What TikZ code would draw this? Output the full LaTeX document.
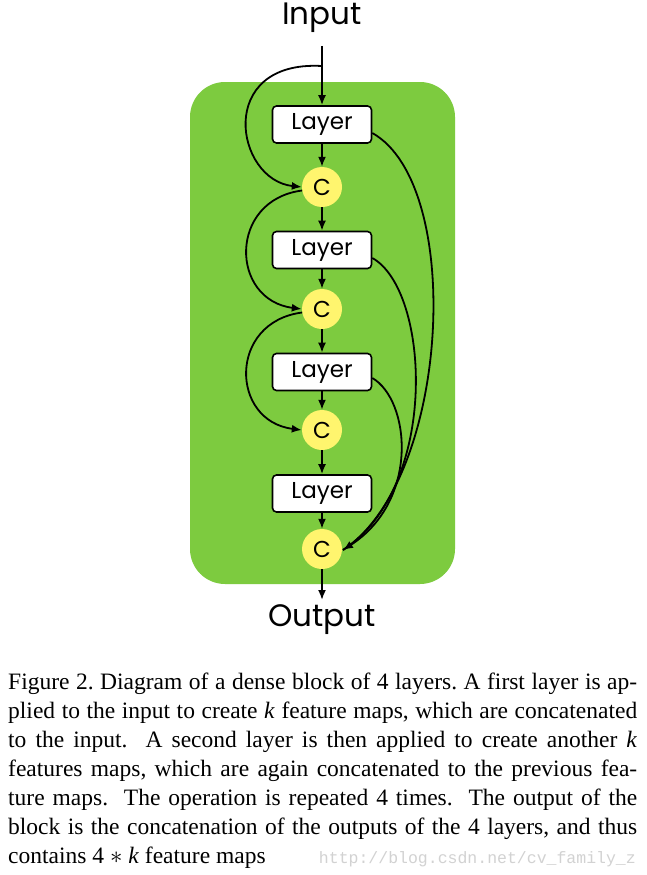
\documentclass[tikz,border=0pt]{standalone}
\usepackage{fontspec}
\setmainfont{Liberation Serif}
\newfontfamily\labelfont{Poppins}
\newfontfamily\wmfont{Liberation Mono}
\usetikzlibrary{arrows.meta}
\definecolor{blockgreen}{RGB}{125,203,63}
\definecolor{cyellow}{RGB}{255,245,110}
\frenchspacing
\begin{document}
\begin{tikzpicture}[x=1pt,y=-1pt,
  layerbox/.style={draw=black,fill=white,line width=1.6pt,rounded corners=4pt,
    minimum width=99pt,minimum height=37pt,inner sep=0pt,font=\labelfont\fontsize{23}{23}\selectfont},
  cnode/.style={circle,fill=cyellow,minimum size=40pt,inner sep=0pt,font=\labelfont\fontsize{23}{23}\selectfont},
  conn/.style={line width=1.8pt,-{Latex[length=10pt,width=8pt]}},
  curve/.style={line width=1.8pt},
  capline/.style={anchor=base west,inner sep=0pt,font=\fontsize{23.5}{23.5}\selectfont}]
\useasboundingbox (0,0) rectangle (646,875);
\fill[white] (0,0) rectangle (646,875);
\fill[blockgreen,rounded corners=35pt] (190,82) rectangle (455,584);

\node[font=\labelfont\fontsize{31}{31}\selectfont,inner sep=0pt] (in) at (322,18) {Input};
\node[font=\labelfont\fontsize{31}{31}\selectfont,inner sep=0pt] (out) at (322,620) {Output};

\node[layerbox] (l1) at (322,124.5) {Layer};
\node[layerbox] (l2) at (322,250) {Layer};
\node[layerbox] (l3) at (322,372) {Layer};
\node[layerbox] (l4) at (322,493.5) {Layer};
\node[cnode] (c1) at (322,187) {C};
\node[cnode] (c2) at (322,309) {C};
\node[cnode] (c3) at (322,430) {C};
\node[cnode] (c4) at (322,549) {C};

\coordinate (istart) at (322,46);
\coordinate (br) at (322,66);
\coordinate (oend) at (322,600);

\draw[conn] (istart) -- (l1.north);
\draw[conn] (l1.south) -- (c1.north);
\draw[conn] (c1.south) -- (l2.north);
\draw[conn] (l2.south) -- (c2.north);
\draw[conn] (c2.south) -- (l3.north);
\draw[conn] (l3.south) -- (c3.north);
\draw[conn] (c3.south) -- (l4.north);
\draw[conn] (l4.south) -- (c4.north);
\draw[conn] (c4.south) -- (oend);

% left skip curves
\draw[conn] (br) .. controls (215,60) and (235,180) .. (c1.west);
\draw[conn] (c1.190) .. controls (228,200) and (230,300) .. (c2.west);
\draw[conn] (c2.190) .. controls (228,322) and (230,421) .. (c3.west);

% right curves into last C
\coordinate (c4in) at (343,550);
\draw[curve] (l1.east |- 0,133) .. controls (465,185) and (450,480) .. (c4in);
\draw[curve] (l2.east |- 0,258) .. controls (430,290) and (440,487) .. (c4in);
\draw[conn] (l3.east |- 0,378) .. controls (410,400) and (420,500) .. (c4in);

% caption
\node[capline] (t1) at (8,689) {\makebox[629pt][s]{Figure 2. Diagram of a dense block of 4 layers. A first layer is ap-}};
\node[capline] (t2) at (8,718) {\makebox[629pt][s]{plied to the input to create \textit{k} feature maps, which are concatenated}};
\node[capline] (t3) at (8,747) {\makebox[629pt][s]{to the input.\ \ A second layer is then applied to create another \textit{k}}};
\node[capline] (t4) at (8,776) {\makebox[629pt][s]{features maps, which are again concatenated to the previous fea-}};
\node[capline] (t5) at (8,805) {\makebox[629pt][s]{ture maps.\ \ The operation is repeated 4 times.\ \ The output of the}};
\node[capline] (t6) at (8,834) {\makebox[629pt][s]{block is the concatenation of the outputs of the 4 layers, and thus}};
\node[capline] (t7) at (8,863) {contains 4 $\ast$ \textit{k} feature maps};
\node[anchor=base east,inner sep=0pt,text=gray!35,font=\wmfont\fontsize{16.5}{16.5}\selectfont] (wm) at (636,863) {http://blog.csdn.net/cv\_family\_z};
\end{tikzpicture}
\end{document}
